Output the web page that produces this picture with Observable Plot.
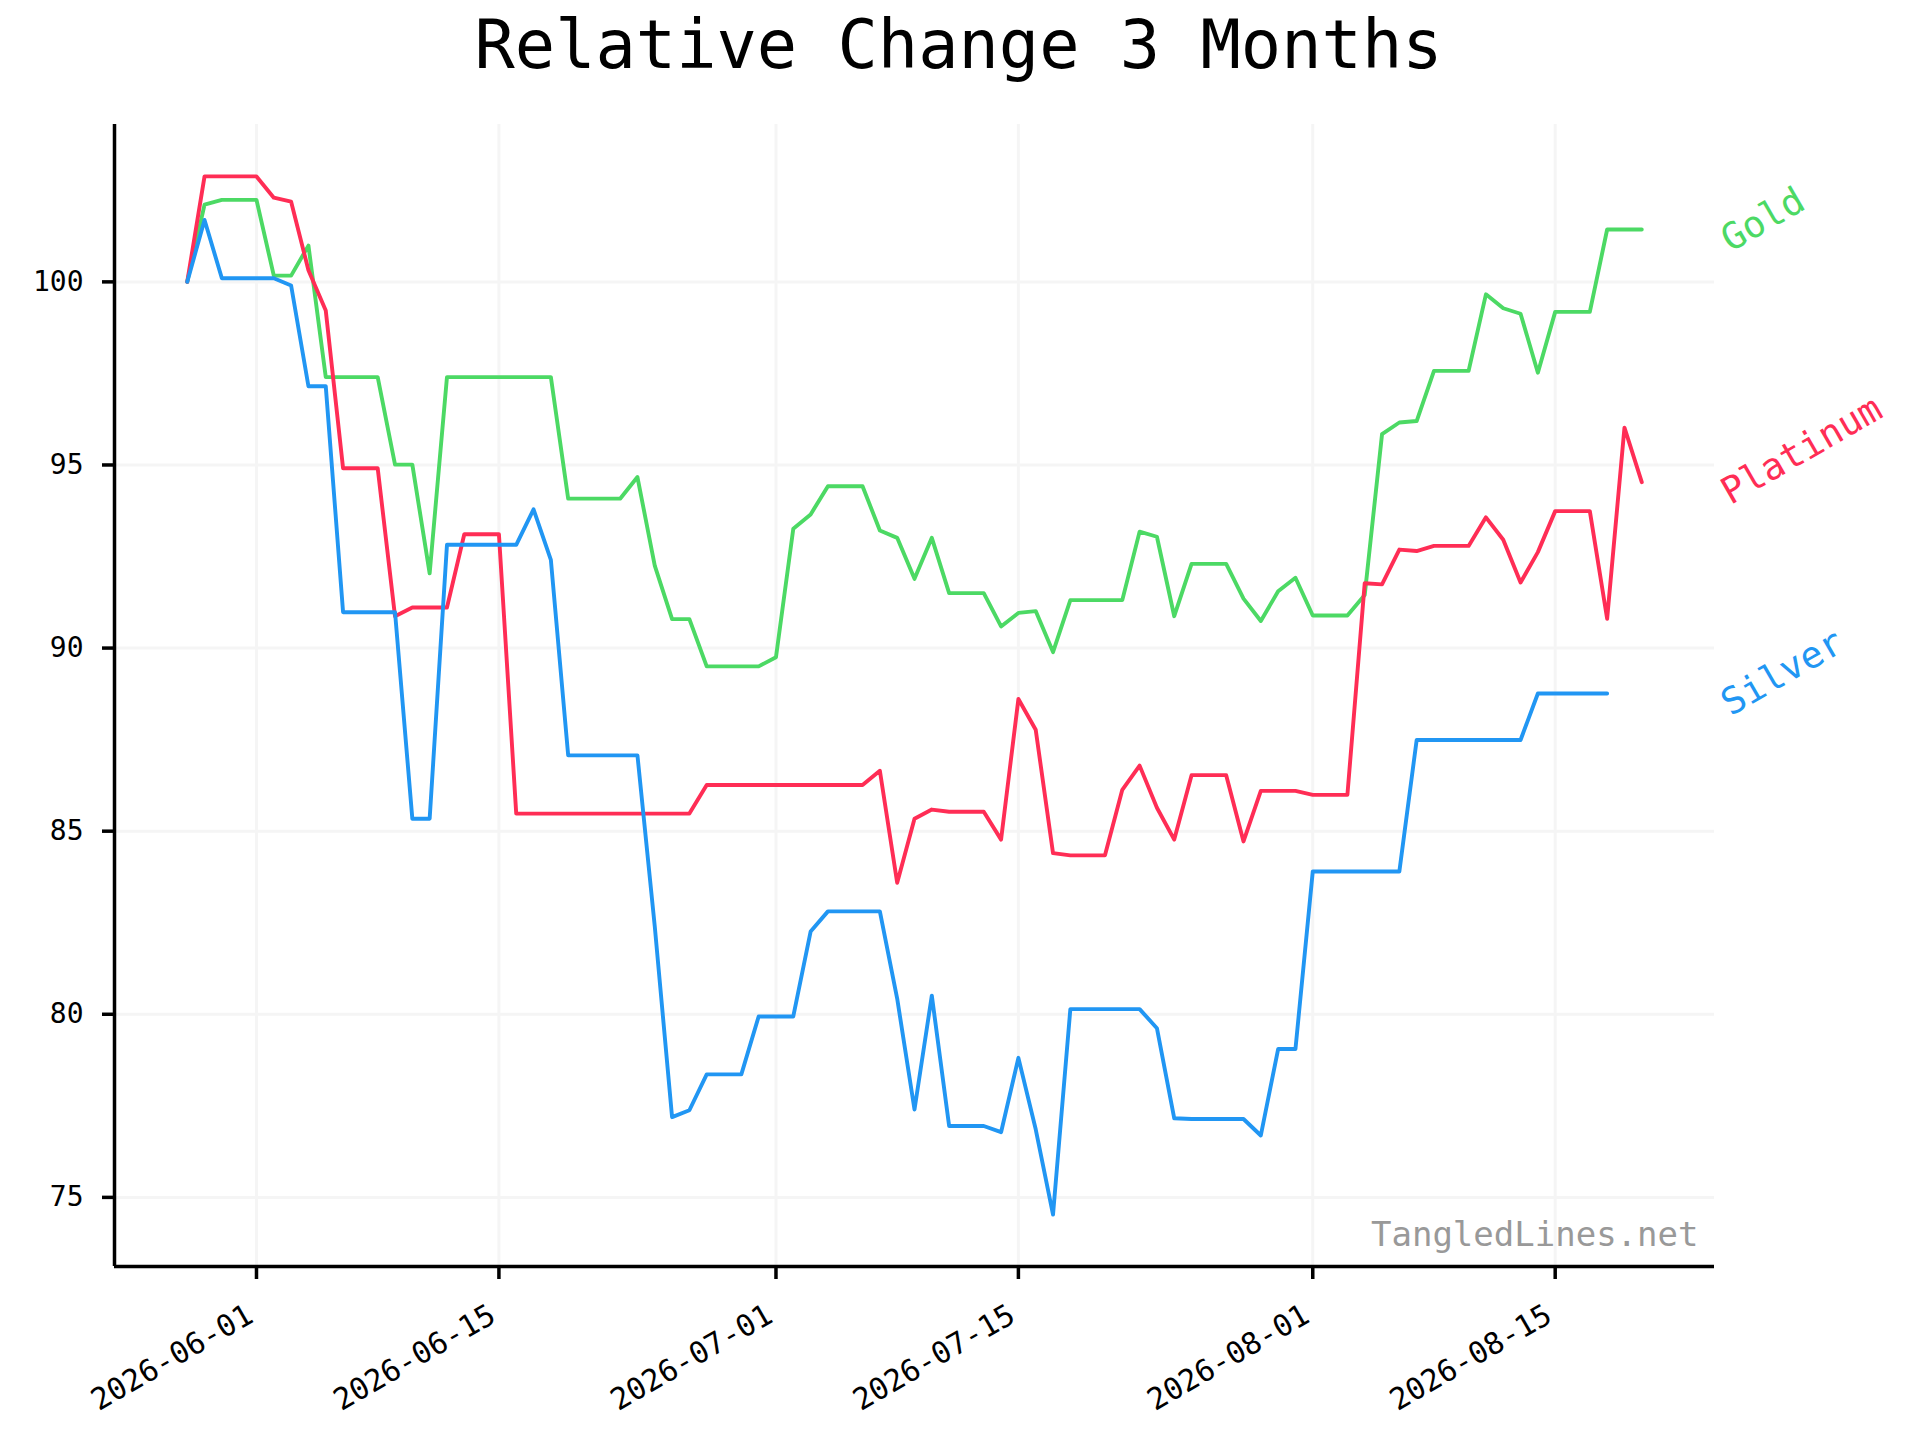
<!DOCTYPE html>
<html>
<head>
<meta charset="utf-8">
<script src="https://cdn.jsdelivr.net/npm/d3@7"></script>
<script src="https://cdn.jsdelivr.net/npm/@observablehq/plot@0.6"></script>
<style>
  html, body { margin: 0; padding: 0; background: #ffffff; }
  #chart svg { display: block; }
</style>
</head>
<body>
<div id="chart"></div>
<script>
// ---- Data (relative change, start = 100) ----
const titleText = "Relative Change 3 Months";
const watermark = "TangledLines.net";
const startDate = "2026-05-28";
const endDate = "2026-08-20";

const seriesNames = ["Gold", "Platinum", "Silver"];
const seriesColors = ["#4cd964", "#ff2d55", "#2196f3"];

const gold = [
  100.0, 102.11, 102.24, 102.24, 102.24,
  100.17, 100.17, 100.99, 97.40, 97.40,
  97.40, 97.40, 95.01, 95.01, 92.04,
  97.40, 97.40, 97.40, 97.40, 97.40,
  97.40, 97.40, 94.08, 94.08, 94.08,
  94.08, 94.67, 92.25, 90.79, 90.79,
  89.50, 89.50, 89.50, 89.50, 89.75,
  93.26, 93.65, 94.42, 94.42, 94.42,
  93.21, 93.01, 91.89, 93.01, 91.50,
  91.50, 91.50, 90.59, 90.96, 91.01,
  89.89, 91.31, 91.31, 91.31, 91.31,
  93.18, 93.04, 90.87, 92.30, 92.30,
  92.30, 91.35, 90.74, 91.55, 91.92,
  90.89, 90.89, 90.89, 91.45, 95.84,
  96.16, 96.20, 97.57, 97.57, 97.57,
  99.66, 99.28, 99.13, 97.52, 99.18,
  99.18, 99.18, 101.43, 101.43, 101.43
];

const platinum = [
  100.0, 102.88, 102.88, 102.88, 102.88,
  102.30, 102.19, 100.32, 99.22, 94.91,
  94.91, 94.91, 90.87, 91.11, 91.11,
  91.11, 93.11, 93.11, 93.11, 85.48,
  85.48, 85.48, 85.48, 85.48, 85.48,
  85.48, 85.48, 85.48, 85.48, 85.48,
  86.26, 86.26, 86.26, 86.26, 86.26,
  86.26, 86.26, 86.26, 86.26, 86.26,
  86.65, 83.59, 85.34, 85.59, 85.53,
  85.53, 85.53, 84.77, 88.61, 87.77,
  84.40, 84.34, 84.34, 84.34, 86.13,
  86.79, 85.64, 84.77, 86.53, 86.53,
  86.53, 84.72, 86.10, 86.10, 86.10,
  85.99, 85.99, 85.99, 91.77, 91.74,
  92.69, 92.65, 92.79, 92.79, 92.79,
  93.57, 92.96, 91.79, 92.62, 93.74,
  93.74, 93.74, 90.80, 96.02, 94.53
];

const silver = [
  100.0, 101.69, 100.10, 100.10, 100.10,
  100.10, 99.90, 97.15, 97.15, 90.98,
  90.98, 90.98, 90.98, 85.34, 85.34,
  92.82, 92.82, 92.82, 92.82, 92.82,
  93.79, 92.41, 87.07, 87.07, 87.07,
  87.07, 87.07, 82.40, 77.19, 77.38,
  78.36, 78.36, 78.36, 79.94, 79.94,
  79.94, 82.26, 82.81, 82.81, 82.81,
  82.81, 80.43, 77.40, 80.51, 76.95,
  76.95, 76.95, 76.78, 78.81, 76.86,
  74.53, 80.14, 80.14, 80.14, 80.14,
  80.14, 79.62, 77.16, 77.14, 77.14,
  77.14, 77.14, 76.69, 79.05, 79.05,
  83.90, 83.90, 83.90, 83.90, 83.90,
  83.90, 87.49, 87.49, 87.49, 87.49,
  87.49, 87.49, 87.49, 88.76, 88.76,
  88.76, 88.76, 88.76
];

const yTicks = [75, 80, 85, 90, 95, 100];
const xTickLabels = ["2026-06-01", "2026-06-15", "2026-07-01", "2026-07-15", "2026-08-01", "2026-08-15"];

// ---- Build tidy table ----
const parse = d3.utcParse("%Y-%m-%d");
const fmt = d3.utcFormat("%Y-%m-%d");
const dates = d3.utcDay.range(parse(startDate), d3.utcDay.offset(parse(endDate), 1));
const seriesValues = [gold, platinum, silver];
const rows = [];
seriesNames.forEach((name, s) => {
  seriesValues[s].forEach((v, i) => rows.push({series: name, date: dates[i], value: v}));
});
const lastRows = seriesNames.map((name, s) => ({series: name, value: seriesValues[s][seriesValues[s].length - 1]}));
const xTicks = xTickLabels.map(parse);

// matplotlib-like 5% margins
const xExt = d3.extent(rows, d => d.date);
const xPad = (xExt[1] - xExt[0]) * 0.05;
const xDomain = [new Date(+xExt[0] - xPad), new Date(+xExt[1] + xPad)];
const yExt = d3.extent(rows, d => d.value);
const yPad = (yExt[1] - yExt[0]) * 0.05;
const yDomain = [yExt[0] - yPad, yExt[1] + yPad];

const font = "DejaVu Sans Mono";

const chart = Plot.plot({
  width: 1920,
  height: 1440,
  marginLeft: 114,
  marginRight: 206,
  marginTop: 124,
  marginBottom: 174,
  style: {fontFamily: font, background: "#ffffff", color: "#000000", overflow: "visible"},
  x: {type: "utc", domain: xDomain},
  y: {domain: yDomain},
  color: {domain: seriesNames, range: seriesColors},
  marks: [
    Plot.gridX(xTicks, {stroke: "#f5f5f5", strokeOpacity: 1, strokeWidth: 3}),
    Plot.gridY(yTicks, {stroke: "#f5f5f5", strokeOpacity: 1, strokeWidth: 3}),
    Plot.line(rows, {x: "date", y: "value", z: "series", stroke: "series", strokeWidth: 3.9, strokeLinejoin: "round"}),
    Plot.ruleX([xDomain[0]], {stroke: "#000", strokeWidth: 3.5}),
    Plot.ruleY([yDomain[0]], {stroke: "#000", strokeWidth: 3.5}),
    Plot.axisY({ticks: yTicks, tickSize: 12, tickPadding: 19, fontSize: 28, strokeWidth: 3.5, label: null, tickFormat: d => String(d)}),
    Plot.axisX({ticks: xTicks, tickSize: 13, strokeWidth: 3.5, label: null, tickFormat: () => ""}),
    Plot.text(xTicks, {x: d => d, frameAnchor: "bottom", text: d => fmt(d), rotate: -30, textAnchor: "end", lineAnchor: "top", dx: -12, dy: 36, fontSize: 30, fill: "#000"}),
    Plot.text(lastRows, {frameAnchor: "right", y: "value", text: "series", fill: "series", rotate: -30, textAnchor: "start", lineAnchor: "bottom", dx: 16, dy: 23, fontSize: 37}),
    Plot.text([titleText], {text: d => d, frameAnchor: "top", lineAnchor: "bottom", dx: 44, dy: -57, fontSize: 67, fill: "#000"}),
    Plot.text([watermark], {text: d => d, frameAnchor: "bottom-right", textAnchor: "end", lineAnchor: "bottom", dx: -16, dy: -21, fontSize: 34, fill: "#999999"})
  ]
});
document.getElementById("chart").appendChild(chart);
</script>
</body>
</html>
